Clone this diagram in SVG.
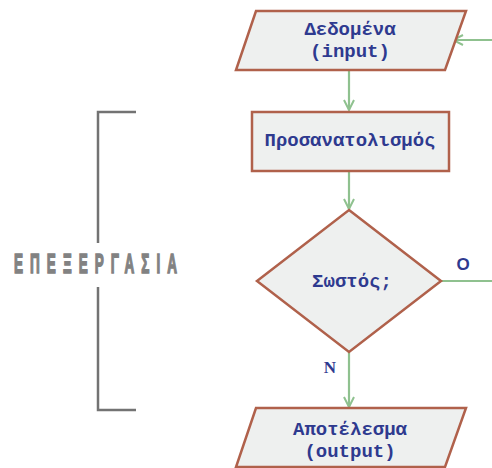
<svg xmlns="http://www.w3.org/2000/svg" width="492" height="468" viewBox="0 0 492 468">
  <style>
    .box { fill: #eef0ef; stroke: #b0614b; stroke-width: 2.5; stroke-linejoin: miter; }
    .lbl { font-family: "Liberation Mono", "Courier New", monospace; font-weight: bold; font-size: 19px; fill: #2e3a8f; text-anchor: middle; }
    .flow { fill: none; stroke: #8fc18f; stroke-width: 2.2; }
    .tag { font-weight: bold; fill: #2e3a8f; text-anchor: middle; }
    .brace { fill: none; stroke: #737373; stroke-width: 2.5; }
  </style>
  <defs>
    <marker id="chev" viewBox="0 0 12 12" refX="11" refY="6" markerWidth="12" markerHeight="12" markerUnits="userSpaceOnUse" orient="auto">
      <path d="M1,1 L11,6 L1,11" fill="none" stroke="#8fc18f" stroke-width="2"/>
    </marker>
  </defs>

  <!-- processing bracket -->
  <g id="processing">
    <path class="brace" d="M136,112 H98 V243"/>
    <path class="brace" d="M98,287 V410 H136"/>
    <text transform="translate(14,273) scale(0.5,1)" textLength="326" lengthAdjust="spacing" font-family="Liberation Sans, Arial, sans-serif" font-weight="bold" font-size="27" fill="#828282" stroke="#828282" stroke-width="1.6">ΕΠΕΞΕΡΓΑΣΙΑ</text>
  </g>

  <!-- connectors -->
  <g id="connectors">
    <path class="flow" d="M492,40 H453" marker-end="url(#chev)"/>
    <path class="flow" d="M349,70 V110" marker-end="url(#chev)"/>
    <path class="flow" d="M349,171 V209" marker-end="url(#chev)"/>
    <path class="flow" d="M441,281 H492"/>
    <path class="flow" d="M349,352 V407" marker-end="url(#chev)"/>
    <text class="tag" x="463" y="270" font-family="Liberation Sans, Arial, sans-serif" font-size="17">O</text>
    <text class="tag" x="330" y="373" font-family="Liberation Serif, Times New Roman, serif" font-size="17">N</text>
  </g>

  <g id="input">
    <polygon class="box" points="256,11 466,11 445,70 236,70"/>
    <text class="lbl" x="350" y="35">Δεδομένα</text>
    <text class="lbl" x="350" y="57">(input)</text>
  </g>

  <g id="orientation">
    <rect class="box" x="252" y="112" width="197" height="59"/>
    <text class="lbl" x="350" y="146">Προσανατολισμός</text>
  </g>

  <g id="check">
    <polygon class="box" points="349,210 441,281 349,352 257,281"/>
    <text class="lbl" x="352" y="287" font-size="17px">Σωστός;</text>
  </g>

  <g id="output">
    <polygon class="box" points="256,408 466,408 445,467 236,467"/>
    <text class="lbl" x="350" y="435">Αποτέλεσμα</text>
    <text class="lbl" x="350" y="457">(output)</text>
  </g>
</svg>
